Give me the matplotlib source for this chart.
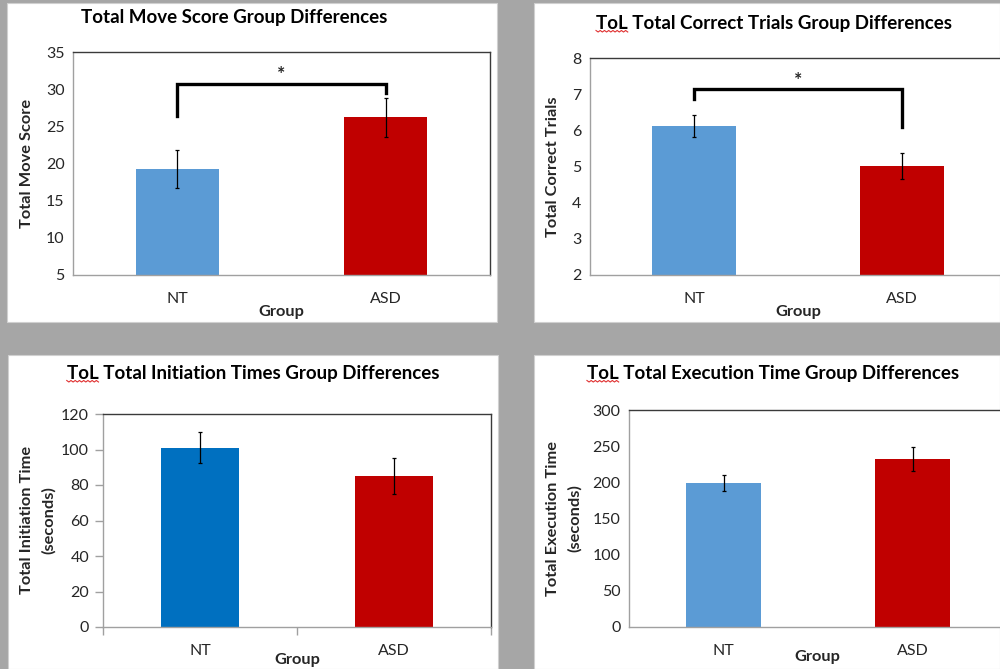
import matplotlib
matplotlib.use("Agg")
import matplotlib.pyplot as plt
from matplotlib.patches import Rectangle
from matplotlib.lines import Line2D
import numpy as np

plt.rcParams['font.family'] = ['Lato', 'DejaVu Sans']

# ---------------- data ----------------
groups = ["NT", "ASD"]

move_means = [19.3, 26.2]
move_err = [2.55, 2.65]
move_bracket = [26.4, 30.7, 29.5]   # left leg end, bar height, right leg end

correct_means = [6.12, 5.01]
correct_err = [0.31, 0.35]
correct_bracket = [6.86, 7.13, 6.10]

init_means = [101.0, 85.0]
init_err = [8.7, 10.0]

exec_means = [199.0, 232.0]
exec_err = [11.5, 16.6]

titles = ["Total Move Score Group Differences",
          "ToL Total Correct Trials Group Differences",
          "ToL Total Initiation Times Group Differences",
          "ToL Total Execution Time Group Differences"]
ylabels = ["Total Move Score",
           "Total Correct Trials",
           "Total Initiation Time\n(seconds)",
           "Total Execution Time\n(seconds)"]
xlabel = "Group"

# ---------------- styling ----------------
W, H = 1000, 669
BG = "#a6a6a6"
LIGHT_BLUE = "#5b9bd5"
DARK_BLUE = "#0070c0"
RED = "#c00000"
TXT = "#262626"
TITLE_FS = 13.5
LAB_FS = 11.8
TICK_FS = 11.5

fig = plt.figure(figsize=(W / 100, H / 100), dpi=100)
fig.patch.set_facecolor(BG)


def fx(x):
    return x / W


def fy(y):
    return 1 - y / H


def panel(x0, y0, x1, y1):
    r = Rectangle((fx(x0), fy(y1)), fx(x1) - fx(x0), fy(y0) - fy(y1),
                  transform=fig.transFigure, facecolor="white",
                  edgecolor="#d0d0d0", linewidth=0.8, zorder=-10)
    fig.patches.append(r)


def make_axes(left, top, right, bottom):
    ax = fig.add_axes([fx(left), fy(bottom), fx(right) - fx(left), fy(top) - fy(bottom)])
    ax.set_zorder(1)
    return ax


panel(7, 3, 497, 322)
panel(534, 3, 1000, 322)
panel(8, 355, 498, 669)
panel(534, 355, 1000, 669)


def style_axes(ax, ylim, yticks, ticks_y=False, ticks_x=False):
    ax.set_xlim(-0.5, 1.5)
    ax.set_ylim(*ylim)
    ax.set_yticks(yticks)
    ax.set_xticks([0, 1])
    ax.set_xticklabels(groups)
    for s in ["top", "right"]:
        ax.spines[s].set_color("#3a3a3a")
        ax.spines[s].set_linewidth(1.0)
    for s in ["left", "bottom"]:
        ax.spines[s].set_color("#a0a0a0")
        ax.spines[s].set_linewidth(1.0)
    ax.tick_params(axis="y", labelsize=TICK_FS, colors="#a0a0a0", labelcolor=TXT,
                   length=6 if ticks_y else 0, width=1, pad=6 if not ticks_y else 4)
    ax.tick_params(axis="x", labelsize=TICK_FS, colors="#a0a0a0", labelcolor=TXT,
                   length=0, pad=12)
    if ticks_x:
        ax.set_xticks([-0.5, 0.5, 1.5], minor=True)
        ax.tick_params(axis="x", which="minor", length=6, width=1, colors="#a0a0a0")


def bars(ax, means, errs, colors):
    x = np.arange(len(groups))
    ax.bar(x, means, width=0.4, color=colors, zorder=2)
    ax.errorbar(x, means, yerr=errs, fmt="none", ecolor="black", elinewidth=0.9,
                capsize=1.5, capthick=0.9, zorder=3)


def bracket(ax, b, star_off):
    ax.plot([0, 0, 1, 1], [b[0], b[1], b[1], b[2]], color="black", linewidth=2.4,
            solid_joinstyle="miter", zorder=4, clip_on=False)
    ax.text(0.5, b[1] + star_off, "*", ha="center", va="center", fontsize=14,
            fontweight="bold", color=TXT)


title_objs = []

# Panel 1
ax1 = make_axes(73, 52, 490, 275)
bars(ax1, move_means, move_err, [LIGHT_BLUE, RED])
style_axes(ax1, (5, 35), range(5, 36, 5))
bracket(ax1, move_bracket, 1.3)
title_objs.append(fig.text(fx(234), fy(18), titles[0], ha="center", va="center",
                           fontsize=TITLE_FS, fontweight="bold", color="black"))
fig.text(fx(27), fy(163), ylabels[0], rotation=90, ha="center", va="center",
         fontsize=LAB_FS, fontweight="bold", color=TXT)
fig.text(fx(281), fy(312), xlabel, ha="center", va="center",
         fontsize=LAB_FS, fontweight="bold", color=TXT)

# Panel 2
ax2 = make_axes(590, 58, 1006, 275)
bars(ax2, correct_means, correct_err, [LIGHT_BLUE, RED])
style_axes(ax2, (2, 8), range(2, 9))
bracket(ax2, correct_bracket, 0.25)
title_objs.append(fig.text(fx(774), fy(23), titles[1], ha="center", va="center",
                           fontsize=TITLE_FS, fontweight="bold", color="black"))
fig.text(fx(553), fy(167), ylabels[1], rotation=90, ha="center", va="center",
         fontsize=LAB_FS, fontweight="bold", color=TXT)
fig.text(fx(798), fy(312), xlabel, ha="center", va="center",
         fontsize=LAB_FS, fontweight="bold", color=TXT)

# Panel 3
ax3 = make_axes(103, 414, 491, 627)
bars(ax3, init_means, init_err, [DARK_BLUE, RED])
style_axes(ax3, (0, 120), range(0, 121, 20), ticks_y=True, ticks_x=True)
title_objs.append(fig.text(fx(253), fy(373), titles[2], ha="center", va="center",
                           fontsize=TITLE_FS, fontweight="bold", color="black"))
fig.text(fx(38), fy(520), ylabels[2], rotation=90, ha="center", va="center",
         fontsize=LAB_FS, fontweight="bold", color=TXT, linespacing=1.6)
fig.text(fx(297), fy(660), xlabel, ha="center", va="center",
         fontsize=LAB_FS, fontweight="bold", color=TXT)

# Panel 4
ax4 = make_axes(629, 410, 1007, 627)
bars(ax4, exec_means, exec_err, [LIGHT_BLUE, RED])
style_axes(ax4, (0, 300), range(0, 301, 50))
title_objs.append(fig.text(fx(773), fy(373), titles[3], ha="center", va="center",
                           fontsize=TITLE_FS, fontweight="bold", color="black"))
fig.text(fx(564), fy(518), ylabels[3], rotation=90, ha="center", va="center",
         fontsize=LAB_FS, fontweight="bold", color=TXT, linespacing=1.6)
fig.text(fx(817), fy(657), xlabel, ha="center", va="center",
         fontsize=LAB_FS, fontweight="bold", color=TXT)

# red wavy spell-check underline under "ToL"
fig.canvas.draw()
renderer = fig.canvas.get_renderer()
for t in title_objs[1:]:
    bb = t.get_window_extent(renderer)
    tmp = fig.text(0, 0, "ToL", fontsize=TITLE_FS, fontweight="bold")
    w = tmp.get_window_extent(renderer).width
    tmp.remove()
    n = max(int(w / 2), 2)
    xs = np.linspace(bb.x0, bb.x0 + w, n + 1)
    ys = bb.y0 + 1 + np.where(np.arange(n + 1) % 2 == 0, 0.0, -1.5)
    fig.add_artist(Line2D(xs / fig.bbox.width, ys / fig.bbox.height,
                          transform=fig.transFigure, color="#e03030", linewidth=0.8))

fig.savefig("out.png", dpi=100, facecolor=BG)
